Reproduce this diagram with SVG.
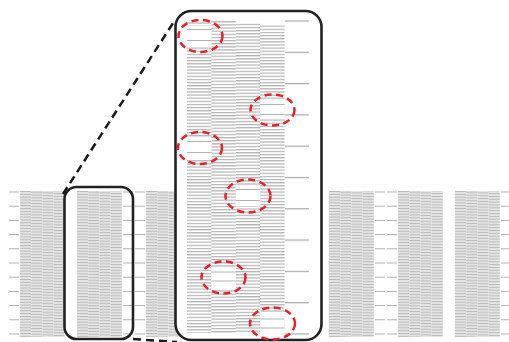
<svg xmlns="http://www.w3.org/2000/svg" width="509" height="342" viewBox="0 0 509 342">
<style>
.box{fill:none;stroke:#222;stroke-width:2.6}
.conn{fill:none;stroke:#1a1a1a;stroke-width:2.5;stroke-dasharray:8 5}
.miss{fill:none;stroke:#e8202a;stroke-width:2.5;stroke-dasharray:7 4.5}
.bl{stroke:#b3b3b3;stroke-width:1.2}
.wg{fill:#fff}
</style>
<defs>
<pattern id="s0" patternUnits="userSpaceOnUse" width="10" height="2.84" y="191"><rect width="10" height="2.84" fill="#e6e6e6"/><rect width="10" height="1" fill="#b9b9b9"/></pattern>
<pattern id="s1" patternUnits="userSpaceOnUse" width="10" height="2.84" y="191.7"><rect width="10" height="2.84" fill="#e6e6e6"/><rect width="10" height="1" fill="#b9b9b9"/></pattern>
<pattern id="s2" patternUnits="userSpaceOnUse" width="10" height="2.84" y="192.4"><rect width="10" height="2.84" fill="#e6e6e6"/><rect width="10" height="1" fill="#b9b9b9"/></pattern>
<pattern id="s3" patternUnits="userSpaceOnUse" width="10" height="2.84" y="193.1"><rect width="10" height="2.84" fill="#e6e6e6"/><rect width="10" height="1" fill="#b9b9b9"/></pattern>
<pattern id="st" patternUnits="userSpaceOnUse" width="10" height="14.2" y="191.5"><rect width="10" height="1" fill="#b0b0b0"/></pattern>
<pattern id="b0" patternUnits="userSpaceOnUse" width="10" height="3.13" y="22.5"><rect width="10" height="1.2" fill="#b3b3b3"/></pattern>
<pattern id="b1" patternUnits="userSpaceOnUse" width="10" height="3.13" y="21.2"><rect width="10" height="1.2" fill="#b3b3b3"/></pattern>
<pattern id="b2" patternUnits="userSpaceOnUse" width="10" height="3.13" y="23.8"><rect width="10" height="1.2" fill="#b3b3b3"/></pattern>
<pattern id="b3" patternUnits="userSpaceOnUse" width="10" height="3.13" y="25.6"><rect width="10" height="1.2" fill="#b3b3b3"/></pattern>
<pattern id="bt" patternUnits="userSpaceOnUse" width="10" height="31.3" y="20.4"><rect width="10" height="1.2" fill="#a8a8a8"/></pattern>
</defs>

<g id="pattern-strip">
<rect x="9" y="191" width="10" height="145" fill="url(#st)"/>
<g id="unit-20">
<rect x="20" y="191" width="11.2" height="146" fill="url(#s0)"/>
<rect x="31.2" y="191" width="11.2" height="146" fill="url(#s1)"/>
<rect x="42.4" y="191" width="11.2" height="146" fill="url(#s2)"/>
<rect x="53.6" y="191" width="11" height="146" fill="url(#s3)"/>
<rect x="77" y="191" width="11.2" height="146" fill="url(#s0)"/>
<rect x="88.2" y="191" width="11.2" height="146" fill="url(#s1)"/>
<rect x="99.4" y="191" width="11.2" height="146" fill="url(#s2)"/>
<rect x="110.6" y="191" width="11.2" height="146" fill="url(#s3)"/>
<rect x="123" y="191" width="10" height="145" fill="url(#st)"/>
<rect x="135" y="191" width="10" height="145" fill="url(#st)"/>
</g>
<g id="unit-146">
<rect x="146" y="191" width="11.2" height="146" fill="url(#s0)"/>
<rect x="157.2" y="191" width="11.2" height="146" fill="url(#s1)"/>
<rect x="168.4" y="191" width="11.2" height="146" fill="url(#s2)"/>
<rect x="179.6" y="191" width="11" height="146" fill="url(#s3)"/>
</g>
<g id="unit-272">
<rect x="329" y="191" width="11.2" height="146" fill="url(#s0)"/>
<rect x="340.2" y="191" width="11.2" height="146" fill="url(#s1)"/>
<rect x="351.4" y="191" width="11.2" height="146" fill="url(#s2)"/>
<rect x="362.6" y="191" width="11.2" height="146" fill="url(#s3)"/>
<rect x="375" y="191" width="10" height="145" fill="url(#st)"/>
<rect x="387" y="191" width="10" height="145" fill="url(#st)"/>
</g>
<g id="unit-398">
<rect x="398" y="191" width="11.2" height="146" fill="url(#s0)"/>
<rect x="409.2" y="191" width="11.2" height="146" fill="url(#s1)"/>
<rect x="420.4" y="191" width="11.2" height="146" fill="url(#s2)"/>
<rect x="431.6" y="191" width="11.2" height="146" fill="url(#s3)"/>
<rect x="455" y="191" width="11.2" height="146" fill="url(#s0)"/>
<rect x="466.2" y="191" width="11.2" height="146" fill="url(#s1)"/>
<rect x="477.4" y="191" width="11.2" height="146" fill="url(#s2)"/>
<rect x="488.6" y="191" width="11.2" height="146" fill="url(#s3)"/>
<rect x="501" y="191" width="10" height="145" fill="url(#st)"/>
</g>
</g>

<g id="small-box">
<rect class="box" x="64.5" y="187" width="68.5" height="152" rx="12"/>
</g>

<g id="connectors">
<line class="conn" x1="63" y1="194" x2="175" y2="20"/>
<line class="conn" x1="133" y1="339" x2="177" y2="342"/>
</g>

<g id="zoom-box">
<rect x="175.5" y="11" width="146" height="329" rx="16" fill="#fff"/>
<rect x="187" y="22" width="24.4" height="311" fill="url(#b0)"/>
<rect x="211.4" y="21" width="24.4" height="312" fill="url(#b1)"/>
<rect x="235.8" y="23" width="24.4" height="310" fill="url(#b2)"/>
<rect x="260.2" y="25" width="24.4" height="308" fill="url(#b3)"/>
<rect x="285" y="20" width="24" height="316" fill="url(#bt)"/>
<g id="gaps">
<rect class="wg" x="187" y="26" width="24.4" height="21"/>
<rect class="wg" x="260.2" y="100" width="24.4" height="18"/>
<rect class="wg" x="187" y="137" width="24.4" height="22"/>
<rect class="wg" x="235.8" y="185" width="24.4" height="21"/>
<rect class="wg" x="211.4" y="267" width="24.4" height="22"/>
<rect class="wg" x="260.2" y="313" width="24.4" height="21"/>
<path class="bl" d="M187 29.5h24.4M187 40.5h24.4M260.2 104.5h24.4M260.2 114.5h24.4M187 141.5h24.4M187 152.5h24.4M235.8 189.5h24.4M235.8 200.5h24.4M211.4 272h24.4M211.4 281h24.4M260.2 319h24.4M260.2 328h24.4"/>
</g>
<rect class="box" x="175.5" y="11" width="146" height="329" rx="16"/>
</g>

<g id="missing-nozzles">
<ellipse class="miss" cx="200.5" cy="36" rx="22" ry="16"/>
<ellipse class="miss" cx="272.5" cy="110" rx="22" ry="15.5"/>
<ellipse class="miss" cx="200" cy="148" rx="22" ry="16"/>
<ellipse class="miss" cx="248" cy="196" rx="22.5" ry="16.5"/>
<ellipse class="miss" cx="223.5" cy="277.5" rx="22" ry="16"/>
<ellipse class="miss" cx="272.5" cy="323.5" rx="22.5" ry="16"/>
</g>
</svg>
